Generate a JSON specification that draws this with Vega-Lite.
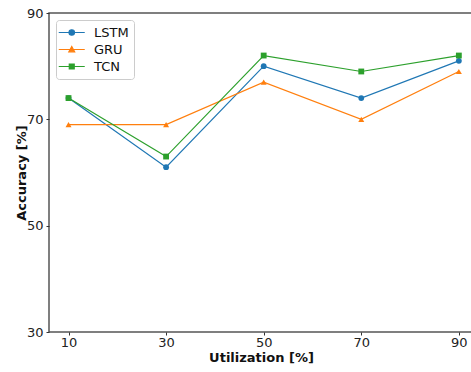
{
  "$schema": "https://vega.github.io/schema/vega-lite/v6.json",
  "autosize": {"type": "none"},
  "padding": {"left": 49, "top": 13, "right": 0, "bottom": 40},
  "width": 424,
  "height": 319,
  "background": "white",
  "config": {
    "font": "DejaVu Sans",
    "view": {"stroke": "#555555", "strokeWidth": 1.5},
    "axis": {
      "domain": false,
      "grid": false,
      "tickColor": "#333333",
      "tickSize": 3,
      "tickWidth": 1,
      "labelFont": "DejaVu Sans",
      "labelFontSize": 13,
      "labelColor": "#222222",
      "titleFont": "DejaVu Sans",
      "titleFontSize": 13,
      "titleFontWeight": "bold",
      "titleColor": "#111111"
    }
  },
  "data": {
    "values": [
      {"model": "LSTM", "util": 10, "acc": 74},
      {"model": "LSTM", "util": 30, "acc": 61},
      {"model": "LSTM", "util": 50, "acc": 80},
      {"model": "LSTM", "util": 70, "acc": 74},
      {"model": "LSTM", "util": 90, "acc": 81},
      {"model": "GRU", "util": 10, "acc": 69},
      {"model": "GRU", "util": 30, "acc": 69},
      {"model": "GRU", "util": 50, "acc": 77},
      {"model": "GRU", "util": 70, "acc": 70},
      {"model": "GRU", "util": 90, "acc": 79},
      {"model": "TCN", "util": 10, "acc": 74},
      {"model": "TCN", "util": 30, "acc": 63},
      {"model": "TCN", "util": 50, "acc": 82},
      {"model": "TCN", "util": 70, "acc": 79},
      {"model": "TCN", "util": 90, "acc": 82}
    ]
  },
  "encoding": {
    "x": {
      "field": "util",
      "type": "quantitative",
      "title": "Utilization [%]",
      "scale": {"domain": [6, 92.9], "nice": false, "zero": false},
      "axis": {"values": [10, 30, 50, 70, 90], "labelPadding": 1, "titlePadding": 2}
    },
    "y": {
      "field": "acc",
      "type": "quantitative",
      "title": "Accuracy [%]",
      "scale": {"domain": [30, 90], "nice": false, "zero": false},
      "axis": {"values": [30, 50, 70, 90], "labelPadding": 3, "titlePadding": -2}
    },
    "color": {
      "field": "model",
      "type": "nominal",
      "sort": ["LSTM", "GRU", "TCN"],
      "scale": {"domain": ["LSTM", "GRU", "TCN"], "range": ["#1f77b4", "#ff7f0e", "#2ca02c"]},
      "legend": {
        "title": null,
        "orient": "top-left",
        "offset": 7,
        "padding": 5,
        "rowPadding": 2,
        "fillColor": "white",
        "strokeColor": "#cccccc",
        "cornerRadius": 3,
        "labelFont": "DejaVu Sans",
        "labelFontSize": 13,
        "labelColor": "#111111",
        "labelOffset": 18,
        "symbolSize": 169,
        "symbolStrokeWidth": 1.3,
        "encode": {
          "symbols": {
            "update": {
              "shape": {"signal": "datum.value === 'LSTM' ? 'M-1.5,0H2.5M0.92,0A0.42,0.42 0 1,1 0.08,0A0.42,0.42 0 1,1 0.92,0Z' : datum.value === 'GRU' ? 'M-1.5,0H2.5M0.5,-0.45L0.95,0.35L0.05,0.35Z' : 'M-1.5,0H2.5M0.12,-0.38H0.88V0.38H0.12Z'"},
              "fill": {"signal": "scale('color', datum.value)"},
              "stroke": {"signal": "scale('color', datum.value)"},
              "strokeWidth": {"value": 1.2},
              "opacity": {"value": 1}
            }
          }
        }
      }
    }
  },
  "layer": [
    {
      "mark": {"type": "line", "strokeWidth": 1.2}
    },
    {
      "transform": [{"filter": "datum.model === 'LSTM'"}],
      "mark": {"type": "point", "filled": true, "opacity": 1, "shape": "circle", "size": 34}
    },
    {
      "transform": [{"filter": "datum.model === 'GRU'"}],
      "mark": {"type": "point", "filled": true, "opacity": 1, "shape": "triangle-up", "size": 36}
    },
    {
      "transform": [{"filter": "datum.model === 'TCN'"}],
      "mark": {"type": "point", "filled": true, "opacity": 1, "shape": "square", "size": 34}
    }
  ]
}
